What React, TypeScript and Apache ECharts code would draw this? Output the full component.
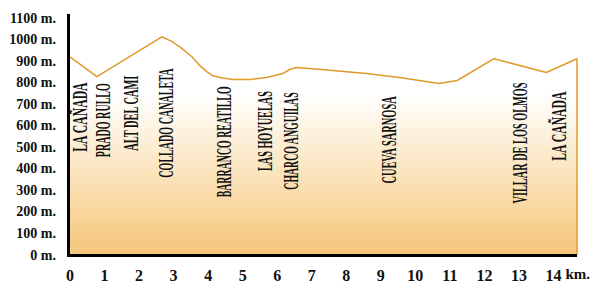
import React, { useEffect, useRef } from "react";
import * as echarts from "echarts";

// Elevation profile: distance (km) and altitude (m)
const distanceKm = [0, 0.78, 2.66, 2.92, 3.18, 3.53, 3.76, 3.96, 4.13, 4.34, 4.71, 5.2, 5.69, 6.16, 6.36, 6.56, 7.02, 7.6, 8.58, 9.54, 10.69, 11.21, 12.28, 13.79, 14.68, 14.68];
const altitudeM = [920, 828, 1012, 994, 966, 920, 879, 851, 833, 824, 815, 815, 824, 842, 861, 870, 865, 856, 842, 824, 796, 810, 911, 847, 911, 0];

// Waypoint names and their kilometre position
const placeNames = ["LA CAÑADA", "PRADO RULLO", "ALT DEL CAMI", "COLLADO CANALETA", "BARRANCO REATILLO", "LAS HOYUELAS", "CHARCO ANGUILAS", "CUEVA SARNOSA", "VILLAR DE LOS OLMOS", "LA CAÑADA"];
const placeKm = [0.29, 0.95, 1.76, 2.77, 4.45, 5.64, 6.39, 9.25, 13.03, 14.16];
// label anchor altitude (centre of the vertical label)
const placeAnchorM = [640, 626, 658, 612, 525, 575, 529, 534, 520, 598];

const yTicks = { min: 0, max: 1100, interval: 100 };
const xTicks = { min: 0, max: 14.68, interval: 1 };
const xUnit = "km.";
const yUnit = "m.";

// layout only: label lengths in px and font sizes
const labelSpan = [70, 74, 76, 109, 111, 80, 98, 88, 121, 70];
const labelFont = [21, 20, 20, 20, 20, 20, 20, 20, 20, 21];

const SERIF = "Liberation Serif";

export default function App() {
  const ref = useRef<HTMLDivElement>(null);
  useEffect(() => {
    if (!ref.current) return;
    const chart = echarts.init(ref.current, null, { renderer: "svg" });
    const data = distanceKm.map((d, i) => [d, altitudeM[i]]);

    const canvas = document.createElement("canvas");
    const ctx = canvas.getContext("2d")!;
    const scales = placeNames.map((name, i) => {
      ctx.font = `bold ${labelFont[i]}px "${SERIF}"`;
      const w = ctx.measureText(name).width || 100;
      return labelSpan[i] / w;
    });

    chart.setOption({
      animation: false,
      grid: { left: 70, right: 22, top: 18, bottom: 26 },
      xAxis: {
        type: "value",
        min: xTicks.min,
        max: xTicks.max,
        interval: xTicks.interval,
        axisLine: { show: false },
        axisTick: { show: false },
        splitLine: { show: false },
        axisLabel: {
          margin: 12,
          color: "#111",
          fontFamily: SERIF,
          fontWeight: "bold",
          fontSize: 16,
          formatter: (v: number) => (Number.isInteger(v) ? String(v) : ""),
        },
      },
      yAxis: {
        type: "value",
        min: yTicks.min,
        max: yTicks.max,
        interval: yTicks.interval,
        axisLine: { show: false },
        axisTick: { show: false },
        splitLine: { show: false },
        axisLabel: {
          margin: 14,
          color: "#111",
          fontFamily: SERIF,
          fontWeight: "bold",
          fontSize: 14,
          formatter: (v: number) => `${v} ${yUnit}`,
        },
      },
      series: [
        {
          type: "line",
          data,
          showSymbol: false,
          lineStyle: { color: "#E09A2A", width: 1.5 },
          areaStyle: {
            opacity: 1,
            color: {
              type: "linear",
              x: 0,
              y: 0,
              x2: 0,
              y2: 1,
              colorStops: [
                { offset: 0, color: "#ffffff" },
                { offset: 0.26, color: "#ffffff" },
                { offset: 0.62, color: "#fbe4bd" },
                { offset: 1, color: "#f5c679" },
              ],
            },
          },
        },
        {
          // axis frame (left and bottom) drawn as filled bars
          type: "custom",
          z: 30,
          silent: true,
          clip: false,
          data: [[xTicks.min, yTicks.min]],
          renderItem: (_params: any, api: any) => {
            const o = api.coord([xTicks.min, yTicks.min]);
            const t = api.coord([xTicks.min, yTicks.max]);
            const r = api.coord([xTicks.max, yTicks.min]);
            return {
              type: "group",
              children: [
                {
                  type: "rect",
                  shape: { x: o[0] - 3, y: t[1] - 4, width: 3, height: o[1] - t[1] + 6 },
                  style: { fill: "#000" },
                },
                {
                  type: "rect",
                  shape: { x: o[0] - 3, y: o[1] - 1, width: r[0] - o[0] + 3, height: 3 },
                  style: { fill: "#000" },
                },
              ],
            };
          },
        },
        {
          type: "custom",
          z: 20,
          silent: true,
          clip: false,
          data: placeKm.map((k, i) => [k, placeAnchorM[i]]),
          renderItem: (params: any, api: any) => {
            const i = params.dataIndex;
            const p = api.coord([api.value(0), api.value(1)]);
            return {
              type: "text",
              x: p[0],
              y: p[1],
              rotation: Math.PI / 2,
              scaleX: scales[i],
              scaleY: 1,
              style: {
                text: placeNames[i],
                fontFamily: SERIF,
                fontWeight: "bold",
                fontSize: labelFont[i],
                fill: "#111",
                align: "center",
                verticalAlign: "middle",
              },
            };
          },
        },
        {
          type: "custom",
          z: 20,
          silent: true,
          clip: false,
          data: [[xTicks.max, yTicks.min]],
          renderItem: (_params: any, api: any) => {
            const p = api.coord([api.value(0), api.value(1)]);
            return {
              type: "text",
              x: p[0] + 13,
              y: p[1] + 19,
              style: {
                text: xUnit,
                fontFamily: SERIF,
                fontWeight: "bold",
                fontSize: 15,
                fill: "#111",
                align: "right",
                verticalAlign: "middle",
              },
            };
          },
        },
      ],
    });
    return () => chart.dispose();
  }, []);
  return <div ref={ref} style={{ width: 599, height: 283, margin: "-8px 0 0 -8px" }} />;
}
